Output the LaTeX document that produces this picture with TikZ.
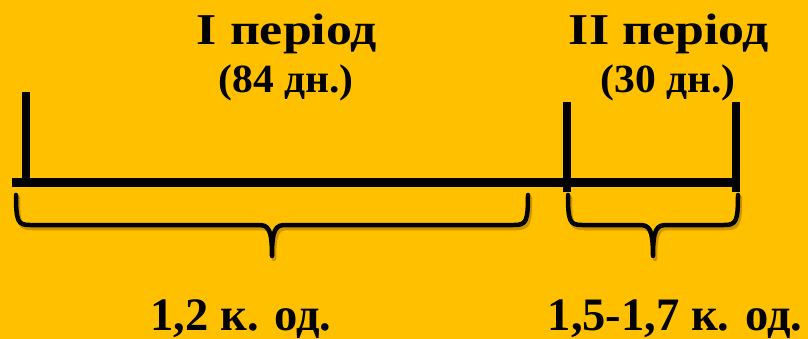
\documentclass[tikz,border=0pt]{standalone}
\usepackage{fontspec}
\setmainfont{Liberation Serif}
\definecolor{bg}{HTML}{FFC000}
\definecolor{shad}{HTML}{B07A00}
\newcommand{\wide}[2]{\scalebox{#1}[1]{#2}}
\begin{document}
\begin{tikzpicture}[x=1pt,y=-1pt,
  axis/.style={line width=9pt},
  tick/.style={line width=8pt},
  brace/.style={line width=4.5pt,line cap=round,line join=round},
  shadowed/.style={shad,opacity=0.6},
  big/.style={font=\bfseries\fontsize{44}{44}\selectfont,anchor=base},
  mid/.style={font=\bfseries\fontsize{40}{40}\selectfont,anchor=base},
  low/.style={font=\bfseries\fontsize{46.5}{46.5}\selectfont,anchor=base}]
\fill[bg] (0,0) rectangle (808,339);
\useasboundingbox (0,0) rectangle (808,339);
% coordinates
\coordinate (L0) at (12,182.5);
\coordinate (L1) at (740,182.5);
\coordinate (T1a) at (26,92);   \coordinate (T1b) at (26,187);
\coordinate (T2a) at (567,102); \coordinate (T2b) at (567,192);
\coordinate (T3a) at (736,102); \coordinate (T3b) at (736,192);
% shadows
\begin{scope}[shift={(2,3)}]
\draw[axis,shadowed] (L0) -- (L1);
\draw[tick,shadowed] (T1a) -- (T1b);
\draw[tick,shadowed] (T2a) -- (T2b);
\draw[tick,shadowed] (T3a) -- (T3b);
\draw[brace,shadowed] (16,195) .. controls (16,222) and (18,225) .. (30,225) -- (258,225) .. controls (268,225) and (272,228) .. (272,256)
  .. controls (272,228) and (276,225) .. (286,225) -- (514,225) .. controls (526,225) and (528,222) .. (528,195);
\draw[brace,shadowed] (568,195) .. controls (568,222) and (570,225) .. (582,225) -- (639,225) .. controls (649,225) and (653,228) .. (653,256)
  .. controls (653,228) and (657,225) .. (667,225) -- (724,225) .. controls (736,225) and (738,222) .. (738,195);
\end{scope}
% axis
\draw[axis] (L0) -- (L1);
\draw[tick] (T1a) -- (T1b);
\draw[tick] (T2a) -- (T2b);
\draw[tick] (T3a) -- (T3b);
% braces
\draw[brace] (16,195) .. controls (16,222) and (18,225) .. (30,225) -- (258,225) .. controls (268,225) and (272,228) .. (272,256)
  .. controls (272,228) and (276,225) .. (286,225) -- (514,225) .. controls (526,225) and (528,222) .. (528,195);
\draw[brace] (568,195) .. controls (568,222) and (570,225) .. (582,225) -- (639,225) .. controls (649,225) and (653,228) .. (653,256)
  .. controls (653,228) and (657,225) .. (667,225) -- (724,225) .. controls (736,225) and (738,222) .. (738,195);
% texts
\node[big] (p1) at (287,45) {\wide{1.18}{I період}};
\node[mid] (d1) at (286,93) {\wide{1.04}{(84 дн.)}};
\node[big] (p2) at (669,45) {\wide{1.18}{II період}};
\node[mid] (d2) at (668,93) {\wide{1.04}{(30 дн.)}};
\node[low] (v1) at (241,330) {1,2 к. од.};
\node[low] (v2) at (675,330) {1,5-1,7 к. од.};
\end{tikzpicture}
\end{document}
